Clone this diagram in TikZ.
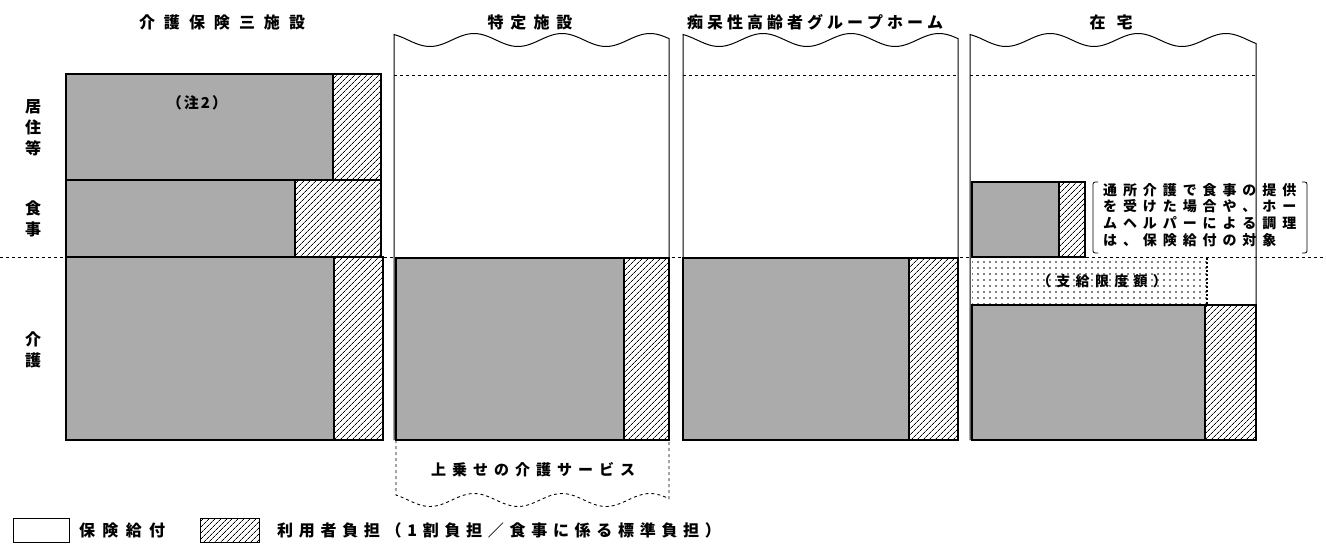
\documentclass[tikz,border=0pt]{standalone}
\usepackage{fontspec}
\setmainfont{Noto Sans CJK JP}
\usetikzlibrary{patterns.meta}
\ExplSyntaxOn
\NewDocumentCommand \lsp { m m }
 {
   \seq_clear:N \l_tmpa_seq
   \tl_map_inline:nn {#2} { \seq_put_right:Nn \l_tmpa_seq {##1} }
   \seq_use:Nn \l_tmpa_seq { \hspace{#1} }
 }
\ExplSyntaxOff
\begin{document}
\begin{tikzpicture}[x=1pt,y=-1pt,
  gbox/.style={fill=black!33,draw=black,line width=1.3pt},
  hbox/.style={pattern={Lines[angle=45,distance=4pt,line width=0.8pt]},draw=black,line width=1.3pt},
  colframe/.style={draw=black,line width=1pt},
  dline/.style={draw=black,line width=0.9pt,dash pattern=on 3pt off 3pt},
  txtL/.style={inner sep=0pt,font=\fontsize{16}{21}\selectfont\bfseries},
  txtS/.style={inner sep=0pt,font=\fontsize{14}{16.7}\selectfont\bfseries}]
\useasboundingbox (0,0) rectangle (1326,544);

% global dashed line
\draw[dline] (0,257) -- (1326,257);

% headers
\node[txtL] (h1) at (222,22) {\lsp{9pt}{介護保険三施設}};
\node[txtL] (h2) at (530,22) {\lsp{7pt}{特定施設}};
\node[txtL] (h3) at (815,22) {\lsp{4pt}{痴呆性高齢者グループホーム}};
\node[txtL] (h4) at (1111,22) {\lsp{11pt}{在宅}};

% row labels
\node[txtL,align=center] (r1) at (33,128) {居\\住\\等};
\node[txtL,align=center] (r2) at (33,219) {食\\事};
\node[txtL,align=center] (r3) at (33,350) {介\\護};

% column 1
\draw[gbox] (66,74) rectangle (333,180);
\draw[hbox] (333,74) rectangle (381,180);
\draw[gbox] (66,180) rectangle (295,257);
\draw[hbox] (295,180) rectangle (381,257);
\draw[gbox] (66,257) rectangle (334,440);
\draw[hbox] (334,257) rectangle (383,440);
\node[txtS,font=\fontsize{15}{16}\selectfont\bfseries] (n2) at (197,103) {\lsp{2pt}{（注2）}};

% column 2
\draw[colframe] (394,440) -- plot[domain=394:669,samples=90,smooth] (\x,{40+6.5*cos(4.0909*(\x-430))}) -- (669,440);
\draw[dline] (394,75) -- (669,75);
\draw[gbox] (396,258) rectangle (624,440);
\draw[hbox] (624,258) rectangle (669,440);
\draw[dline] (396,440) -- plot[domain=396:669,samples=90,smooth] (\x,{500+6.5*cos(4.0909*(\x-430))}) -- (669,440);
\node[txtL,font=\fontsize{15}{18}\selectfont\bfseries] (ex) at (533,470) {\lsp{6pt}{上乗せの介護サービス}};

% column 3
\draw[colframe] (683,440) -- plot[domain=683:958,samples=90,smooth] (\x,{40+6.5*cos(4.0909*(\x-719))}) -- (958,440);
\draw[dline] (683,75) -- (958,75);
\draw[gbox] (683,258) rectangle (909,440);
\draw[hbox] (909,258) rectangle (958,440);

% column 4
\draw[colframe] (970,440) -- plot[domain=970:1256,samples=90,smooth] (\x,{40+6.5*cos(4.0909*(\x-1006))}) -- (1256,440);
\draw[dline] (970,75) -- (1256,75);
\draw[gbox] (972,182) rectangle (1059,257);
\draw[hbox] (1059,182) rectangle (1085,257);
\fill[pattern={Dots[distance=6pt,radius=0.8pt]}] (972,259) rectangle (1207,305);
\draw[line width=1.3pt,dash pattern=on 2pt off 2pt] (1207,258) -- (1207,305);
\draw[gbox] (972,305) rectangle (1205,440);
\draw[hbox] (1205,305) rectangle (1256,440);
\node[txtS] (lim) at (1102,281) {\lsp{5.3pt}{（支給限度額）}};

% bracket note
\draw[line width=0.8pt] (1098,182) .. controls (1093,182) .. (1093,187) -- (1093,248) .. controls (1093,253) .. (1098,253);
\draw[line width=0.8pt] (1302,182) .. controls (1307,182) .. (1307,187) -- (1307,248) .. controls (1307,253) .. (1302,253);
\node[txtS,align=left,anchor=north west] (note) at (1103,183)
  {\lsp{5.9pt}{通所介護で食事の提供}\\\lsp{5.9pt}{を受けた場合や、ホー}\\\lsp{5.9pt}{ムヘルパーによる調理}\\\lsp{5.9pt}{は、保険給付の対象}};

% legend
\draw[line width=0.8pt] (13,518) rectangle (69,542);
\node[txtL,anchor=west] (lg1) at (79,530) {\lsp{7.3pt}{保険給付}};
\draw[hbox,line width=0.8pt] (200,518) rectangle (259,542);
\node[txtL,anchor=west] (lg2) at (277,530) {\lsp{5.7pt}{利用者負担（1割負担／食事に係る標準負担）}};
\end{tikzpicture}
\end{document}
